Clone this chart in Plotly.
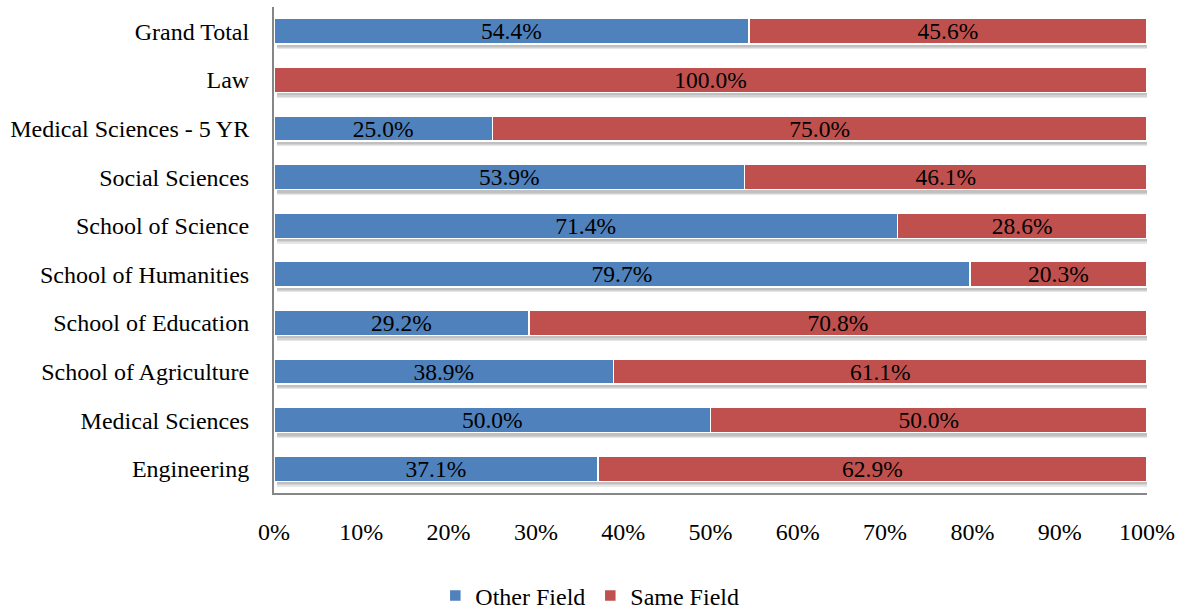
import plotly.graph_objects as go

# categories listed bottom -> top, as plotted
categories = ["Engineering", "Medical Sciences", "School of Agriculture", "School of Education",
              "School of Humanities", "School of Science", "Social Sciences",
              "Medical Sciences - 5 YR", "Law", "Grand Total"]
other_field = [37.1, 50.0, 38.9, 29.2, 79.7, 71.4, 53.9, 25.0, 0.0, 54.4]
same_field = [62.9, 50.0, 61.1, 70.8, 20.3, 28.6, 46.1, 75.0, 100.0, 45.6]
x_ticks = [0, 10, 20, 30, 40, 50, 60, 70, 80, 90, 100]

blue = "#4F81BD"
red = "#C0504D"
font_family = "Liberation Serif, Times New Roman, serif"
bar_w = 0.52

fig = go.Figure()
# soft drop shadow under each bar (drawn on the base axis, under the bars)
totals = [o + s for o, s in zip(other_field, same_field)]
for off, col in [(-0.37, "#e6e6e6"), (-0.345, "#d2d2d2"), (-0.32, "#c0c0c0")]:
    fig.add_trace(go.Bar(
        y=categories, x=totals, orientation="h", base=0.3,
        width=bar_w, offset=off, marker=dict(color=col, line=dict(width=0)),
        showlegend=False, hoverinfo="skip", yaxis="y",
    ))

fig.add_trace(go.Bar(
    y=categories, x=other_field, orientation="h", name="Other Field", yaxis="y2",
    width=bar_w,
    marker=dict(color=blue, line=dict(color="white", width=1.5)),
    text=[f"{v:.1f}%" if v > 0 else "" for v in other_field],
    textposition="inside", insidetextanchor="middle", constraintext="none",
    textfont=dict(color="black", size=23.5, family=font_family),
))
fig.add_trace(go.Bar(
    y=categories, x=same_field, orientation="h", name="Same Field", yaxis="y2",
    width=bar_w,
    marker=dict(color=red, line=dict(color="white", width=1.5)),
    text=[f"{v:.1f}%" for v in same_field],
    textposition="inside", insidetextanchor="middle", constraintext="none",
    textfont=dict(color="black", size=23.5, family=font_family),
))

fig.update_layout(
    barmode="stack",
    width=1182, height=610,
    margin=dict(l=274, r=35, t=7, b=117, autoexpand=False),
    plot_bgcolor="white", paper_bgcolor="white",
    font=dict(family=font_family, size=24, color="black"),
    legend=dict(orientation="h", xref="container", x=0.499, xanchor="center",
                yref="container", y=0.023, yanchor="middle", font=dict(size=24),
                traceorder="normal", itemwidth=30, tracegroupgap=0),
    showlegend=True,
)
fig.update_xaxes(
    range=[0, 100], tickvals=x_ticks, ticktext=[f"{t}%" for t in x_ticks],
    showgrid=False, zeroline=False, automargin=False,
    showline=True, linecolor="#868686", linewidth=2,
    ticks="", ticklabelstandoff=16,
)
fig.update_layout(
    yaxis=dict(
        categoryorder="array", categoryarray=categories,
        range=[-0.5, len(categories) - 0.5],
        showgrid=False, zeroline=False, automargin=False,
        showline=True, linecolor="#868686", linewidth=2,
        ticks="", ticklabelstandoff=18,
    ),
    yaxis2=dict(
        overlaying="y", matches="y", visible=False,
        categoryorder="array", categoryarray=categories,
    ),
)

# drop the default page margin so the figure fills the window exactly
fig.write_html("out.html", config={"displayModeBar": False},
               post_script="document.body.style.margin='0';")
